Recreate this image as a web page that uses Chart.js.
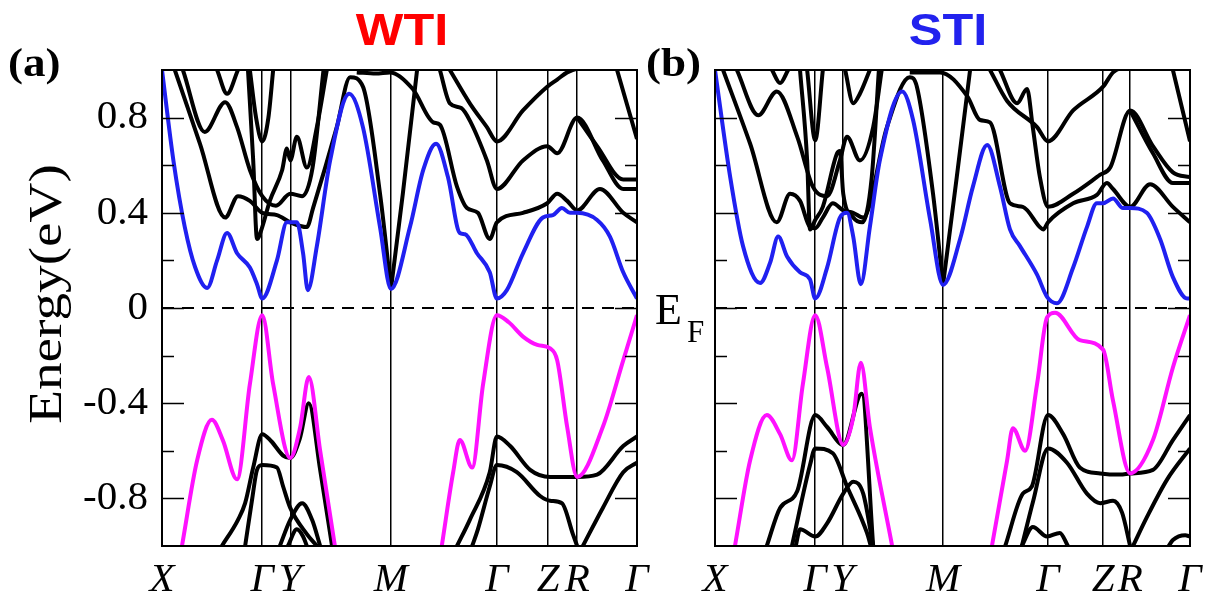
<!DOCTYPE html>
<html>
<head>
<meta charset="utf-8">
<script src="https://cdn.jsdelivr.net/npm/chart.js@4.4.1/dist/chart.umd.min.js"></script>
<style>
  body { margin: 0; background: #fff; }
  #wrap { position: relative; width: 1216px; height: 598px; background: #fff; overflow: hidden; }
  canvas { position: absolute; top: 0; }
  .txt { position: absolute; line-height: 1; white-space: nowrap; transform-origin: left top; }
  .serif { font-family: 'Liberation Serif', 'Times New Roman', serif; color: #000; }
  .title { font-family: 'Liberation Sans', Arial, sans-serif; font-weight: bold; font-size: 45px; width: 200px; text-align: center; }
</style>
</head>
<body>
<div id="wrap">
  <canvas id="chartA" width="660" height="598" style="left:0"></canvas>
  <canvas id="chartB" width="571" height="598" style="left:645px"></canvas>

  <div class="txt title" style="left:302px; top:7px; color:#ff0000; transform:scaleX(1.12); transform-origin:center top;">WTI</div>
  <div class="txt title" style="left:848px; top:7px; color:#2222ee; transform:scaleX(1.12); transform-origin:center top;">STI</div>
  <div class="txt serif" style="left:8px; top:42px; font-size:41px; font-weight:bold; transform:scaleX(1.1);">(a)</div>
  <div class="txt serif" style="left:646px; top:42px; font-size:41px; font-weight:bold; transform:scaleX(1.1);">(b)</div>
  <div class="txt serif" style="left:46px; top:294px; font-size:46px; transform-origin:center center; transform:translate(-50%,-50%) rotate(-90deg) scaleX(1.2);">Energy(eV)</div>
  <div class="txt serif" style="left:655px; top:288px; font-size:44px;">E</div>
  <div class="txt serif" style="left:687px; top:316px; font-size:31px;">F</div>
</div>

<script>
// k-path: ticks (fraction of path) and labels
const kLabels = ['X', 'Γ', 'Y', 'M', 'Γ', 'Z', 'R', 'Γ'];
const kTicksA = [0, 0.211, 0.27, 0.482, 0.705, 0.813, 0.874, 1];
const kTicksB = [0, 0.211, 0.269, 0.48, 0.701, 0.817, 0.874, 1];
const yTicks = [-0.8, -0.4, 0, 0.4, 0.8];
const yMinor = [-0.8, -0.6, -0.4, -0.2, 0, 0.2, 0.4, 0.6, 0.8];
const fermiLine = [[0, 0], [1, 0]];

// ---- (a) WTI ----
const aBlue = [[0,1.0],[0.024,0.62],[0.048,0.34],[0.07,0.17],[0.095,0.084],[0.116,0.2],[0.137,0.315],[0.158,0.23],[0.185,0.17],[0.2,0.1],[0.211,0.04],[0.242,0.2],[0.263,0.36],[0.284,0.36],[0.297,0.23],[0.307,0.075],[0.326,0.26],[0.354,0.62],[0.394,0.90],[0.423,0.76],[0.459,0.34],[0.482,0.08],[0.522,0.34],[0.55,0.58],[0.577,0.69],[0.602,0.55],[0.627,0.315],[0.638,0.31],[0.663,0.23],[0.69,0.15],[0.705,0.04],[0.726,0.075],[0.76,0.23],[0.802,0.38],[0.823,0.39],[0.842,0.42],[0.859,0.40],[0.874,0.40],[0.916,0.37],[0.943,0.30],[0.971,0.15],[1.0,0.04]];
const aMagenta1 = [[0.042,-1.0],[0.074,-0.64],[0.105,-0.47],[0.128,-0.555],[0.158,-0.72],[0.185,-0.32],[0.211,-0.03],[0.234,-0.32],[0.27,-0.63],[0.291,-0.50],[0.309,-0.29],[0.333,-0.60],[0.364,-1.0]];
const aMagenta2 = [[0.589,-1.0],[0.613,-0.69],[0.627,-0.555],[0.653,-0.67],[0.676,-0.32],[0.705,-0.03],[0.73,-0.06],[0.76,-0.12],[0.79,-0.155],[0.817,-0.17],[0.832,-0.22],[0.853,-0.5],[0.874,-0.71],[0.928,-0.50],[0.971,-0.22],[1.0,-0.03]];

const aV1 = [[0.126,-1],[0.16,-0.89],[0.175,-0.82],[0.192,-0.67],[0.211,-0.53],[0.23,-0.56],[0.255,-0.62],[0.27,-0.63],[0.29,-0.55],[0.309,-0.40],[0.333,-0.68],[0.358,-1]];
const aV2 = [[0.175,-1],[0.19,-0.8],[0.2,-0.68],[0.211,-0.66],[0.242,-0.67],[0.255,-0.75],[0.27,-0.84],[0.305,-0.95],[0.326,-1]];
const aV3 = [[0.248,-1],[0.27,-0.89],[0.295,-0.82],[0.316,-0.89],[0.333,-1]];
const aV4 = [[0.265,-1],[0.284,-0.93],[0.297,-0.96],[0.305,-1]];
const aV5 = [[0.621,-1],[0.648,-0.89],[0.69,-0.69],[0.705,-0.54],[0.733,-0.58],[0.775,-0.68],[0.817,-0.71],[0.874,-0.71],[0.916,-0.70],[0.971,-0.58],[1,-0.54]];
const aV6 = [[0.653,-1],[0.665,-0.93],[0.69,-0.75],[0.705,-0.66],[0.747,-0.69],[0.796,-0.79],[0.817,-0.81],[0.842,-0.82],[0.865,-0.95],[0.874,-1]];
const aV7 = [[0.886,-1],[0.928,-0.84],[0.971,-0.69],[1,-0.65]];

const aC1 = [[0.027,1.0],[0.08,0.69],[0.133,0.38],[0.16,0.47],[0.185,0.45],[0.211,0.40],[0.242,0.39],[0.27,0.36],[0.305,0.34],[0.318,0.42],[0.368,0.76],[0.396,0.97],[0.423,0.93],[0.459,0.48],[0.482,0.08]];
const aC2 = [[0.044,1.0],[0.09,0.74],[0.133,0.865],[0.158,0.76],[0.185,0.58],[0.211,0.47],[0.24,0.43],[0.27,0.48],[0.295,0.47],[0.317,0.59],[0.34,1.0]];
const aC3 = [[0.181,1.0],[0.192,0.62],[0.2,0.29],[0.211,0.34],[0.227,0.45],[0.253,0.58],[0.263,0.67],[0.27,0.62],[0.284,0.72],[0.305,0.59],[0.326,0.76],[0.347,1.0]];
const aC4 = [[0.185,1.0],[0.198,0.8],[0.211,0.70],[0.224,0.8],[0.234,1.0]];
const aC5 = [[0.116,1.0],[0.137,0.90],[0.16,1.0]];
const aC6 = [[0.41,0.99],[0.45,0.985],[0.48,0.99],[0.528,0.92],[0.571,0.78],[0.585,0.77],[0.621,0.51],[0.642,0.42],[0.665,0.40],[0.69,0.29],[0.705,0.36],[0.76,0.40],[0.811,0.44],[0.832,0.48],[0.853,0.45],[0.874,0.41],[0.922,0.50],[0.971,0.40],[1.0,0.36]];
const aC7 = [[0.585,1.0],[0.606,0.86],[0.63,0.84],[0.65,0.78],[0.684,0.62],[0.705,0.50],[0.76,0.62],[0.811,0.68],[0.832,0.65],[0.874,0.80],[0.928,0.62],[0.971,0.5],[1.0,0.5]];
const aC8 = [[0.606,1.0],[0.648,0.86],[0.684,0.76],[0.705,0.70],[0.76,0.83],[0.811,0.93],[0.832,0.96],[0.853,0.99],[0.9,1.02]];
const aC9 = [[0.874,0.80],[0.916,0.68],[0.971,0.54],[1.0,0.54]];
const aC10 = [[0.958,1.0],[1.0,0.71]];
const aC11 = [[0.482,0.08],[0.507,0.48],[0.537,1.0]];

// ---- (b) STI ----
const bBlue = [[0,1.0],[0.032,0.55],[0.059,0.26],[0.095,0.105],[0.116,0.19],[0.133,0.30],[0.152,0.215],[0.179,0.15],[0.2,0.12],[0.211,0.04],[0.236,0.17],[0.263,0.38],[0.278,0.40],[0.291,0.30],[0.307,0.10],[0.326,0.34],[0.347,0.62],[0.394,0.91],[0.417,0.79],[0.453,0.37],[0.48,0.097],[0.516,0.29],[0.543,0.51],[0.573,0.685],[0.6,0.51],[0.621,0.33],[0.642,0.26],[0.678,0.14],[0.699,0.047],[0.72,0.02],[0.754,0.17],[0.783,0.34],[0.804,0.44],[0.817,0.44],[0.838,0.46],[0.859,0.42],[0.874,0.42],[0.909,0.40],[0.937,0.29],[0.964,0.13],[0.994,0.04],[1,0.04]];
const bMagenta1 = [[0.042,-1],[0.074,-0.64],[0.109,-0.45],[0.137,-0.53],[0.162,-0.64],[0.185,-0.32],[0.211,-0.03],[0.236,-0.25],[0.27,-0.575],[0.291,-0.46],[0.307,-0.23],[0.326,-0.50],[0.373,-1]];
const bMagenta2 = [[0.583,-1],[0.615,-0.64],[0.627,-0.505],[0.653,-0.60],[0.678,-0.32],[0.699,-0.04],[0.716,-0.02],[0.768,-0.135],[0.817,-0.175],[0.838,-0.39],[0.874,-0.695],[0.922,-0.555],[0.964,-0.25],[1,-0.03]];

const bV1 = [[0.109,-1],[0.137,-0.84],[0.173,-0.77],[0.211,-0.45],[0.236,-0.50],[0.27,-0.575],[0.309,-0.36],[0.333,-1]];
const bV2 = [[0.162,-1],[0.2,-0.66],[0.211,-0.59],[0.248,-0.61],[0.278,-0.75],[0.32,-0.945],[0.328,-1]];
const bV3 = [[0.17,-1],[0.179,-0.93],[0.211,-0.96],[0.236,-0.905],[0.27,-0.78],[0.291,-0.73],[0.312,-0.78],[0.333,-1]];
const bV4 = [[0.611,-1],[0.648,-0.78],[0.667,-0.75],[0.701,-0.45],[0.733,-0.53],[0.768,-0.67],[0.811,-0.695],[0.853,-0.70],[0.874,-0.695],[0.922,-0.68],[0.964,-0.555],[1,-0.45]];
const bV5 = [[0.646,-1],[0.67,-0.81],[0.701,-0.59],[0.741,-0.65],[0.783,-0.78],[0.811,-0.82],[0.838,-0.81],[0.857,-0.86],[0.874,-1]];
const bV6 = [[0.88,-1],[0.909,-0.88],[0.952,-0.72],[1,-0.59]];
const bV7 = [[0.646,-1],[0.669,-0.92],[0.699,-0.96],[0.726,-0.945],[0.743,-1]];
const bV8 = [[0.955,-1],[0.964,-0.975],[0.99,-0.955],[1,-0.96]];

const bC1 = [[0.017,1.0],[0.074,0.69],[0.13,0.36],[0.158,0.48],[0.179,0.45],[0.2,0.34],[0.211,0.335],[0.227,0.38],[0.248,0.44],[0.27,0.41],[0.291,0.40],[0.312,0.38],[0.362,0.76],[0.41,0.97],[0.425,0.93],[0.459,0.48],[0.48,0.097]];
const bC2 = [[0.046,1.0],[0.091,0.81],[0.13,0.91],[0.173,0.72],[0.206,0.51],[0.236,0.47],[0.263,0.62],[0.278,0.72],[0.305,0.62],[0.333,0.76],[0.351,1.0]];
const bC3 = [[0.179,1.0],[0.194,0.62],[0.2,0.33],[0.211,0.37],[0.227,0.425],[0.257,0.65],[0.263,0.66],[0.27,0.48],[0.291,0.38],[0.31,0.36],[0.33,0.55],[0.345,1.0]];
const bC4 = [[0.194,1.0],[0.211,0.705],[0.227,1.0]];
const bC5 = [[0.12,1.0],[0.137,0.945],[0.154,1.0]];
const bC6 = [[0.274,1.0],[0.291,0.86],[0.305,0.9],[0.326,1.0]];
const bC7 = [[0.48,0.097],[0.509,0.55],[0.537,1.0]];
const bC8 = [[0.41,0.99],[0.474,0.99],[0.531,0.89],[0.558,0.79],[0.579,0.78],[0.621,0.44],[0.648,0.425],[0.684,0.34],[0.691,0.33],[0.701,0.36],[0.754,0.44],[0.804,0.475],[0.825,0.525],[0.838,0.50],[0.874,0.425],[0.916,0.52],[0.964,0.425],[1,0.36]];
const bC9 = [[0.6,1.0],[0.636,0.86],[0.657,0.92],[0.669,0.76],[0.684,0.55],[0.701,0.425],[0.754,0.48],[0.811,0.56],[0.832,0.59],[0.874,0.83],[0.922,0.68],[0.964,0.57],[1,0.55]];
const bC10 = [[0.579,1.0],[0.615,0.87],[0.678,0.76],[0.701,0.70],[0.754,0.83],[0.817,0.93],[0.838,0.99],[0.87,1.02]];
const bC11 = [[0.874,0.83],[0.922,0.65],[0.964,0.525],[1,0.525]];
const bC12 = [[0.964,1.0],[1,0.70]];

const BLUE = '#2020f0';
const MAGENTA = '#ff11ff';
const BLACK = '#000000';

function band(points, color) {
    return {
        data: points.map(p => ({ x: p[0], y: p[1] })),
        borderColor: color,
        borderWidth: 4,
        pointRadius: 0,
        fill: false,
        cubicInterpolationMode: 'monotone',
        clip: 0
    };
}

// inward tick marks on both sides + box frame
const framePlugin = {
    id: 'frame',
    afterDatasetsDraw(chart) {
        const { ctx, chartArea: a } = chart;
        const y = chart.scales.y;
        ctx.save();
        ctx.strokeStyle = '#000';
        ctx.lineWidth = 1.5;
        yMinor.forEach(v => {
            const py = Math.round(y.getPixelForValue(v)) + 0.5;
            const len = Math.round(v * 10) % 4 === 0 ? 22 : 12;
            ctx.beginPath();
            ctx.moveTo(a.left, py); ctx.lineTo(a.left + len, py);
            ctx.moveTo(a.right, py); ctx.lineTo(a.right - len, py);
            ctx.stroke();
        });
        ctx.lineWidth = 2;
        ctx.strokeRect(a.left, a.top, a.right - a.left, a.bottom - a.top);
        ctx.restore();
    }
};

function makeChart(id, kTicks, colored, black, showY, yWidth, padRight) {
    const datasets = [];
    colored.forEach(c => datasets.push(band(c[0], c[1])));
    black.forEach(b => datasets.push(band(b, BLACK)));
    const fermi = band(fermiLine, BLACK);
    fermi.borderWidth = 2;
    fermi.borderDash = [12, 8];
    datasets.push(fermi);

    return new Chart(document.getElementById(id), {
        type: 'line',
        data: { datasets },
        options: {
            responsive: false,
            animation: false,
            devicePixelRatio: 1,
            layout: { padding: { top: 70, right: padRight, bottom: 0, left: 0 } },
            plugins: { legend: { display: false }, tooltip: { enabled: false } },
            scales: {
                x: {
                    type: 'linear', min: 0, max: 1,
                    afterBuildTicks: s => { s.ticks = kTicks.map(v => ({ value: v })); },
                    afterFit: s => { s.height = 52; s.paddingLeft = 0; s.paddingRight = 0; },
                    ticks: {
                        autoSkip: false, maxRotation: 0, padding: 10, color: '#000',
                        font: { family: "'Liberation Serif', serif", size: 41, style: 'italic' },
                        callback: (v, i) => kLabels[i]
                    },
                    grid: { color: '#000', lineWidth: 1.5, drawTicks: false },
                    border: { display: false }
                },
                y: {
                    type: 'linear', min: -1, max: 1,
                    afterBuildTicks: s => { s.ticks = yTicks.map(v => ({ value: v })); },
                    afterFit: s => { s.width = yWidth; },
                    ticks: {
                        display: showY, padding: 14, color: '#000',
                        font: { family: "'Liberation Serif', serif", size: 41 },
                        callback: v => v === 0 ? '0' : v.toFixed(1)
                    },
                    grid: { display: false, drawTicks: false },
                    border: { display: false }
                }
            }
        },
        plugins: [framePlugin]
    });
}

makeChart('chartA', kTicksA,
    [[aBlue, BLUE], [aMagenta1, MAGENTA], [aMagenta2, MAGENTA]],
    [aV1, aV2, aV3, aV4, aV5, aV6, aV7, aC1, aC2, aC3, aC4, aC5, aC6, aC7, aC8, aC9, aC10, aC11],
    true, 162, 23);

makeChart('chartB', kTicksB,
    [[bBlue, BLUE], [bMagenta1, MAGENTA], [bMagenta2, MAGENTA]],
    [bV1, bV2, bV3, bV4, bV5, bV6, bV7, bV8, bC1, bC2, bC3, bC4, bC5, bC6, bC7, bC8, bC9, bC10, bC11, bC12],
    false, 70, 26);
</script>
</body>
</html>
